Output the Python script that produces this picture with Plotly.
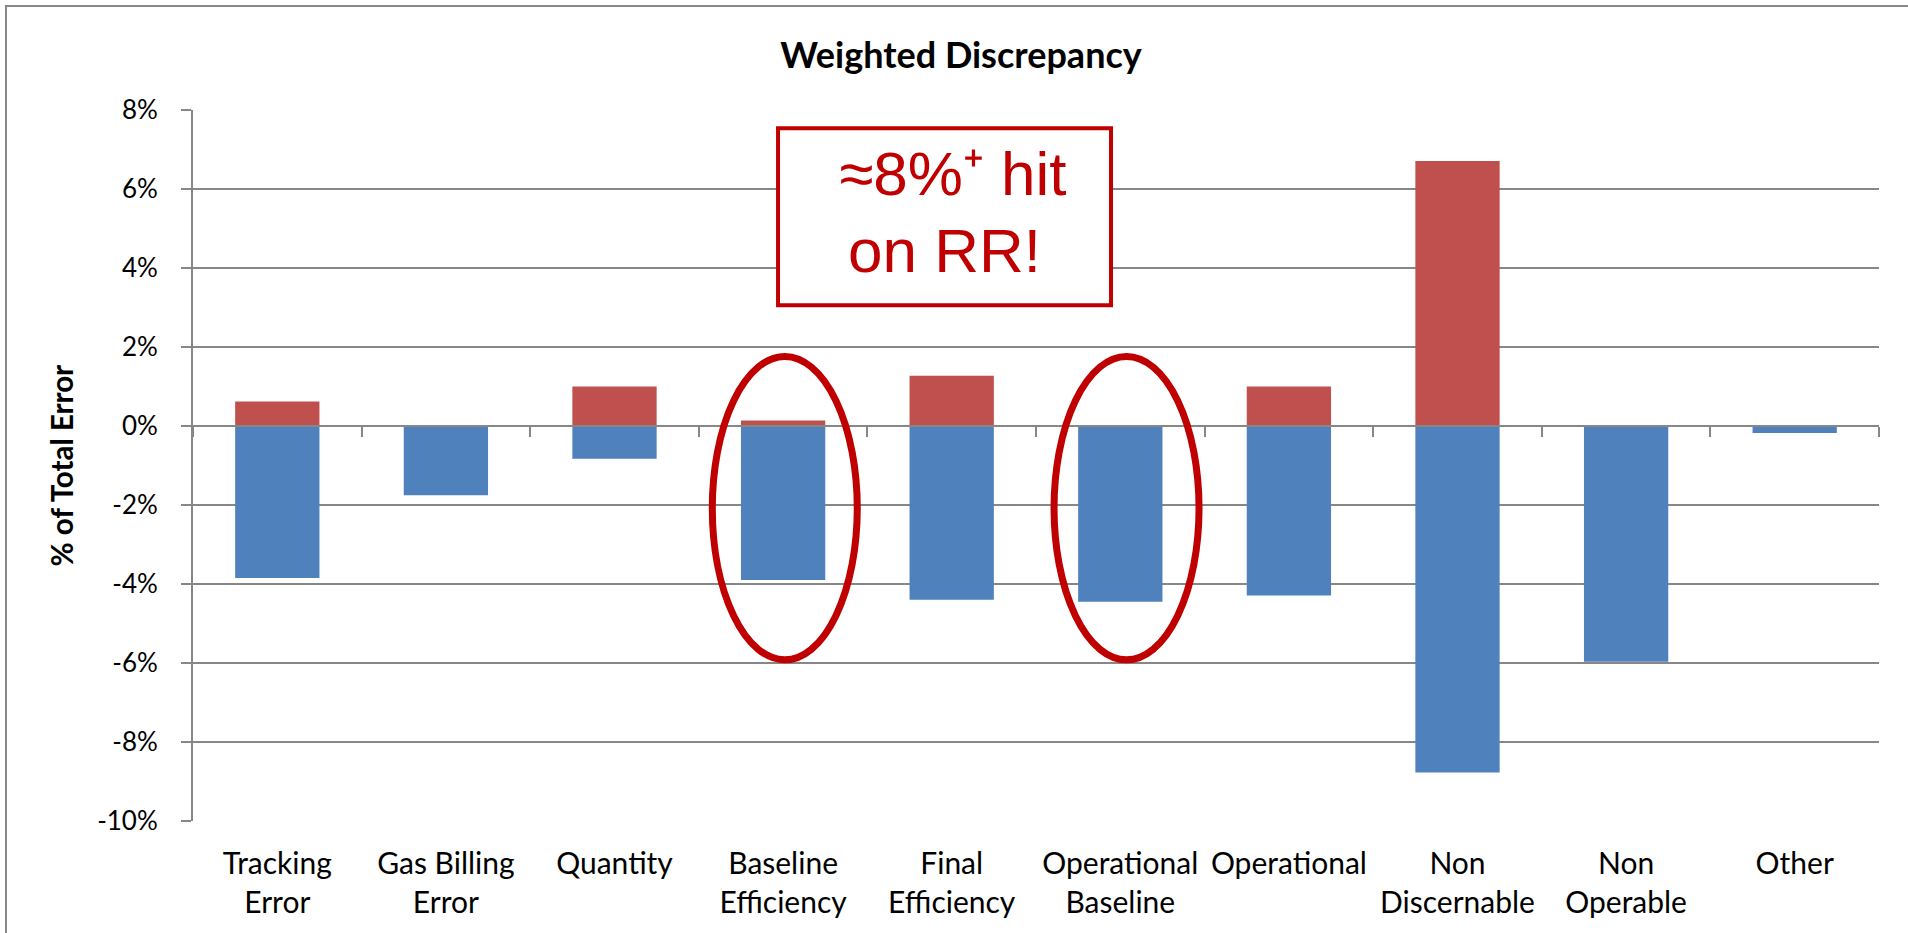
import plotly.graph_objects as go

# ---- data ----
categories = ["Tracking<br>Error", "Gas Billing<br>Error", "Quantity", "Baseline<br>Efficiency",
              "Final<br>Efficiency", "Operational<br>Baseline", "Operational", "Non<br>Discernable",
              "Non<br>Operable", "Other"]
negative_values = [-0.0385, -0.0175, -0.0083, -0.0390, -0.0440, -0.0445, -0.0429, -0.0877, -0.0597, -0.0018]
positive_values = [0.0062, 0.0, 0.0100, 0.0014, 0.0127, 0.0, 0.0100, 0.0671, 0.0, 0.0]
y_tick_values = [0.08, 0.06, 0.04, 0.02, 0.0, -0.02, -0.04, -0.06, -0.08, -0.10]
y_tick_labels = ["8%", "6%", "4%", "2%", "0%", "-2%", "-4%", "-6%", "-8%", "-10%"]
y_range = [-0.10, 0.08]
highlighted = ["Baseline<br>Efficiency", "Operational<br>Baseline"]

BLUE = "#4F81BD"
RED = "#C0504D"
DARKRED = "#C00000"
GRID = "#878787"
FONT = "Lato, 'Open Sans', sans-serif"

fig = go.Figure()
fig.add_trace(go.Bar(x=categories, y=negative_values, name="Under", marker=dict(color=BLUE, line=dict(width=0)),
                     showlegend=False))
fig.add_trace(go.Bar(x=categories, y=positive_values, name="Over", marker=dict(color=RED, line=dict(width=0)),
                     showlegend=False))

n = len(categories)
zero_frac = (0 - y_range[0]) / (y_range[1] - y_range[0])

W, H = 1908, 933
ml, mr, mt, mb = 193, 29, 110, 112
plot_w = W - ml - mr
plot_h = H - mt - mb

fig.update_layout(
    width=W, height=H,
    margin=dict(l=ml, r=mr, t=mt, b=mb),
    paper_bgcolor="white", plot_bgcolor="white",
    barmode="relative", bargap=0.5,
    font=dict(family=FONT, color="#000000", size=27),
    title=dict(text="<b>Weighted Discrepancy</b>", x=961 / W, xref="container", xanchor="center",
               y=1 - 55 / H, yref="container", yanchor="middle",
               font=dict(family=FONT, size=36, color="#000000")),
    xaxis=dict(type="category", categoryorder="array", categoryarray=categories,
               range=[-0.5, n - 0.5], showgrid=False, showline=False, ticks="", zeroline=False,
               tickfont=dict(family=FONT, size=30, color="#000000"), ticklabelstandoff=22),
    xaxis2=dict(overlaying="x", anchor="free", position=zero_frac, range=[-0.5, n - 0.5],
                tickmode="array", tickvals=[i - 0.5 for i in range(n + 1)], showticklabels=False,
                ticks="outside", ticklen=10, tickwidth=2, tickcolor=GRID, showline=True,
                linecolor=GRID, linewidth=2, showgrid=False, zeroline=False, layer="above traces"),
    yaxis=dict(range=y_range, tickmode="array", tickvals=y_tick_values, ticktext=y_tick_labels,
               showgrid=True, gridcolor=GRID, gridwidth=2, zeroline=False,
               showline=True, linecolor=GRID, linewidth=2, ticks="outside", ticklen=10, tickwidth=2,
               tickcolor=GRID, tickfont=dict(family=FONT, size=26, color="#000000"), ticklabelstandoff=18),
)

# invisible helper trace to activate the zero-line tick axis
fig.add_trace(go.Scatter(x=[0], y=[0], xaxis="x2", mode="markers", marker=dict(opacity=0),
                         showlegend=False, hoverinfo="skip"))

# y axis title as annotation
fig.add_annotation(text="<b>% of Total Error</b>", textangle=-90, xref="paper", yref="paper",
                   x=(61 - ml) / plot_w, y=0.5, xanchor="center", yanchor="middle", showarrow=False,
                   font=dict(family=FONT, size=29.5, color="#000000"))

# outer chart border (left/top visible)
fig.add_shape(type="rect", xref="paper", yref="paper",
              x0=(6 - ml) / plot_w, x1=(W + 20 - ml) / plot_w,
              y0=-(mb + 20) / plot_h, y1=1 + (mt - 6) / plot_h,
              line=dict(color=GRID, width=2), fillcolor="rgba(0,0,0,0)", layer="below")

# ellipses around highlighted categories
for cat, dx in zip(highlighted, [0.01, 0.037]):
    idx = categories.index(cat)
    fig.add_shape(type="circle", xref="x", yref="y",
                  x0=idx + dx - 0.43, x1=idx + dx + 0.43, y0=-0.0592, y1=0.0176,
                  line=dict(color=DARKRED, width=7), layer="above")

# callout box
fig.add_shape(type="rect", xref="x", yref="y", x0=2.97, x1=4.945, y0=0.0306, y1=0.0754,
              line=dict(color=DARKRED, width=4), fillcolor="white", layer="above")
fig.add_annotation(text="\u00a0\u22488%\u207a hit",
                   xref="x", yref="y", x=3.955, y=0.0640,
                   xanchor="center", yanchor="middle", showarrow=False, align="center",
                   font=dict(family="'Liberation Sans', Arial, sans-serif", size=62, color=DARKRED))
fig.add_annotation(text="on RR!",
                   xref="x", yref="y", x=3.955, y=0.0445,
                   xanchor="center", yanchor="middle", showarrow=False, align="center",
                   font=dict(family="'Liberation Sans', Arial, sans-serif", size=62, color=DARKRED))

fig.write_html("out.html", config={"displayModeBar": False},
               post_script="document.body.style.margin='0';")
